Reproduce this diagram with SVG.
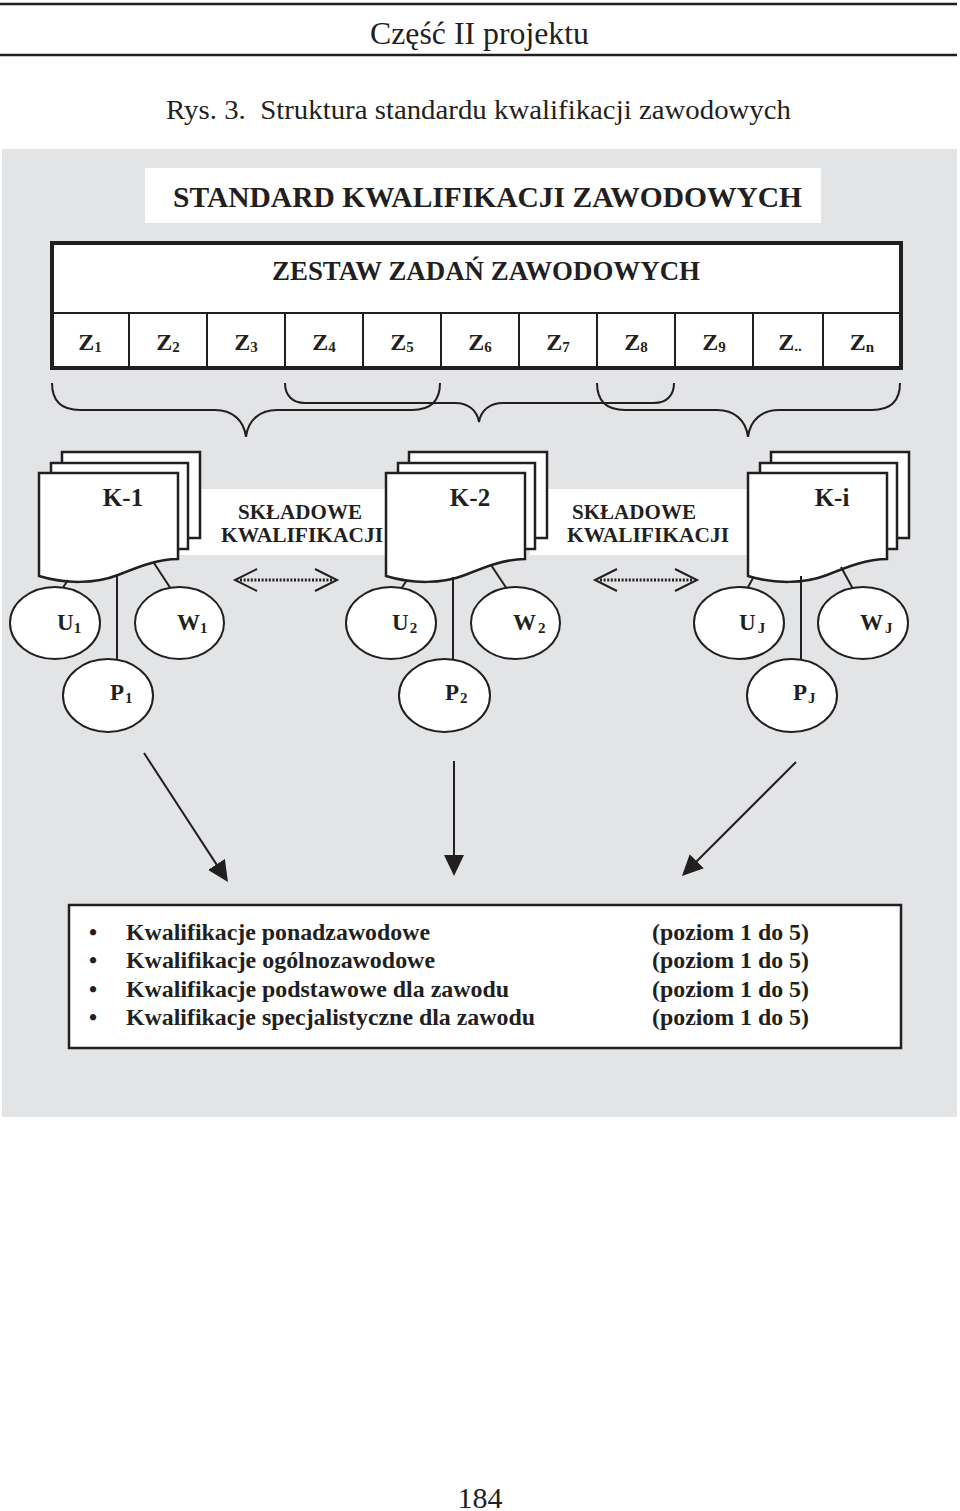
<svg xmlns="http://www.w3.org/2000/svg" width="960" height="1511" viewBox="0 0 960 1511">
<defs>
<style>
.t{font-family:"Liberation Serif","Times New Roman",serif;fill:#231f20}
.b{font-weight:bold}
.ln{stroke:#231f20;stroke-width:2;fill:none}
.sh{fill:#fff;stroke:#231f20;stroke-width:2.5}
.el{fill:#fff;stroke:#231f20;stroke-width:2}
.lbl{font-family:"Liberation Serif","Times New Roman",serif;font-weight:bold;font-size:23px;fill:#231f20}
.zl{font-family:"Liberation Serif","Times New Roman",serif;font-weight:bold;font-size:24px;fill:#231f20;text-anchor:middle}
.sub{font-size:15px}
.kl{font-family:"Liberation Serif","Times New Roman",serif;font-weight:bold;font-size:25px;fill:#231f20;text-anchor:middle}
.sk{font-family:"Liberation Serif","Times New Roman",serif;font-weight:bold;font-size:21px;fill:#231f20}
.li{font-family:"Liberation Serif","Times New Roman",serif;font-weight:bold;font-size:23px;fill:#231f20}
.dot{stroke:#231f20;stroke-width:3;stroke-dasharray:2 1.6;fill:none}
</style>
<marker id="ah" markerUnits="userSpaceOnUse" markerWidth="22" markerHeight="20" refX="11" refY="10" orient="auto"><path d="M0,0 L21,10 L0,20 Z" fill="#231f20"/></marker>
</defs>
<rect width="960" height="1511" fill="#fff"/>

<g id="header">
<line x1="0" y1="4" x2="957" y2="4" stroke="#231f20" stroke-width="2.5"/>
<text class="t" x="370" y="44" font-size="31" textLength="219" lengthAdjust="spacingAndGlyphs">Część II projektu</text>
<line x1="0" y1="55" x2="957" y2="55" stroke="#231f20" stroke-width="2.5"/>
<text class="t" x="166" y="119" font-size="28" textLength="625" lengthAdjust="spacingAndGlyphs">Rys. 3.&#160; Struktura standardu kwalifikacji zawodowych</text>
</g>

<rect id="panel" x="2" y="149" width="955" height="968" fill="#e3e4e6"/>

<g id="title">
<rect x="145" y="168" width="676" height="55" fill="#fff"/>
<text class="t b" x="173" y="207" font-size="30" textLength="629" lengthAdjust="spacingAndGlyphs">STANDARD KWALIFIKACJI ZAWODOWYCH</text>
</g>

<g id="zestaw">
<rect x="52" y="243" width="849" height="125" fill="#fff" stroke="#231f20" stroke-width="4"/>
<line class="ln" x1="52" y1="313" x2="901" y2="313"/>
<text class="t b" x="272" y="280" font-size="27" textLength="428" lengthAdjust="spacingAndGlyphs">ZESTAW ZADAŃ ZAWODOWYCH</text>
<g class="ln">
<line x1="129" y1="313" x2="129" y2="368"/>
<line x1="207" y1="313" x2="207" y2="368"/>
<line x1="285" y1="313" x2="285" y2="368"/>
<line x1="363" y1="313" x2="363" y2="368"/>
<line x1="441" y1="313" x2="441" y2="368"/>
<line x1="519" y1="313" x2="519" y2="368"/>
<line x1="597" y1="313" x2="597" y2="368"/>
<line x1="675" y1="313" x2="675" y2="368"/>
<line x1="753" y1="313" x2="753" y2="368"/>
<line x1="823" y1="313" x2="823" y2="368"/>
</g>
<text class="zl" x="90" y="350">Z<tspan class="sub" dy="2">1</tspan></text>
<text class="zl" x="168" y="350">Z<tspan class="sub" dy="2">2</tspan></text>
<text class="zl" x="246" y="350">Z<tspan class="sub" dy="2">3</tspan></text>
<text class="zl" x="324" y="350">Z<tspan class="sub" dy="2">4</tspan></text>
<text class="zl" x="402" y="350">Z<tspan class="sub" dy="2">5</tspan></text>
<text class="zl" x="480" y="350">Z<tspan class="sub" dy="2">6</tspan></text>
<text class="zl" x="558" y="350">Z<tspan class="sub" dy="2">7</tspan></text>
<text class="zl" x="636" y="350">Z<tspan class="sub" dy="2">8</tspan></text>
<text class="zl" x="714" y="350">Z<tspan class="sub" dy="2">9</tspan></text>
<text class="zl" x="790" y="350">Z<tspan class="sub" dy="1">..</tspan></text>
<text class="zl" x="862" y="350">Z<tspan class="sub" dy="2">n</tspan></text>
</g>

<g id="braces" class="ln">
<path d="M52,383 C52,400 60,410 80,410 L215,410 C232,410 244,420 246,437 C248,420 260,410 277,410 L412,410 C432,410 440,400 440,383"/>
<path d="M285,383 C285,395 292,403 305,403 L455,403 C468,403 477,410 479,422 C481,410 490,403 503,403 L654,403 C667,403 674,395 674,383"/>
<path d="M597,383 C597,400 605,410 625,410 L717,410 C734,410 746,420 748,437 C750,420 762,410 779,410 L872,410 C892,410 900,400 900,383"/>
</g>

<g id="bands">
<rect x="180" y="489" width="210" height="66" fill="#fff"/>
<rect x="530" y="489" width="222" height="66" fill="#fff"/>
<text class="sk" x="238" y="519" textLength="124" lengthAdjust="spacingAndGlyphs">SKŁADOWE</text>
<text class="sk" x="221" y="542" textLength="162" lengthAdjust="spacingAndGlyphs">KWALIFIKACJI</text>
<text class="sk" x="572" y="519" textLength="124" lengthAdjust="spacingAndGlyphs">SKŁADOWE</text>
<text class="sk" x="567" y="542" textLength="162" lengthAdjust="spacingAndGlyphs">KWALIFIKACJI</text>
</g>

<g id="K1">
<rect class="sh" x="62" y="452" width="138" height="86"/>
<rect class="sh" x="51" y="463" width="137" height="86"/>
<path class="sh" d="M39,473 H178 V559 C158,559 138,567 118,575 C95,584 65,584 39,576 Z"/>
<text class="kl" x="123" y="506">K-1</text>
</g>
<g id="K2" transform="translate(347,0)">
<rect class="sh" x="62" y="452" width="138" height="86"/>
<rect class="sh" x="51" y="463" width="137" height="86"/>
<path class="sh" d="M39,473 H178 V559 C158,559 138,567 118,575 C95,584 65,584 39,576 Z"/>
<text class="kl" x="123" y="506">K-2</text>
</g>
<g id="Ki" transform="translate(709,0)">
<rect class="sh" x="62" y="452" width="138" height="86"/>
<rect class="sh" x="51" y="463" width="137" height="86"/>
<path class="sh" d="M39,473 H178 V559 C158,559 138,567 118,575 C95,584 65,584 39,576 Z"/>
<text class="kl" x="123" y="506">K-i</text>
</g>

<g id="connectors">
<g class="ln">
<line x1="68" y1="580" x2="62" y2="589"/>
<line x1="117" y1="576" x2="117" y2="660"/>
<line x1="154" y1="563" x2="171" y2="589"/>
<line x1="407" y1="580" x2="401" y2="589"/>
<line x1="453" y1="577" x2="453" y2="660"/>
<line x1="491" y1="565" x2="507" y2="589"/>
<line x1="753" y1="578" x2="747" y2="589"/>
<line x1="801" y1="576" x2="801" y2="660"/>
<line x1="841" y1="567" x2="853" y2="589"/>
<polyline points="257,569 235,580 257,591"/>
<polyline points="315,569 337,580 315,591"/>
<polyline points="617,569 595,580 617,591"/>
<polyline points="675,569 697,580 675,591"/>
</g>
<line class="dot" x1="240" y1="580" x2="333" y2="580"/>
<line class="dot" x1="600" y1="580" x2="693" y2="580"/>
<g class="ln" marker-end="url(#ah)">
<line x1="144" y1="753" x2="222.5" y2="873.6"/>
<line x1="454" y1="761" x2="454" y2="866"/>
<line x1="796" y1="762" x2="689" y2="869"/>
</g>
</g>

<g id="U1"><ellipse class="el" cx="55" cy="623" rx="45" ry="36"/><text class="lbl" x="57" y="630">U<tspan class="sub" dy="3">1</tspan></text></g>
<g id="W1"><ellipse class="el" cx="179.5" cy="623" rx="44.5" ry="36"/><text class="lbl" x="177" y="630">W<tspan class="sub" dy="3">1</tspan></text></g>
<g id="P1"><ellipse class="el" cx="108" cy="695.5" rx="45" ry="36.5"/><text class="lbl" x="110" y="700">P<tspan class="sub" dy="3" dx="1">1</tspan></text></g>
<g id="U2"><ellipse class="el" cx="391" cy="623" rx="45" ry="36"/><text class="lbl" x="392" y="630">U<tspan class="sub" dy="3" dx="1">2</tspan></text></g>
<g id="W2"><ellipse class="el" cx="515.5" cy="623" rx="44.5" ry="36"/><text class="lbl" x="513" y="630">W<tspan class="sub" dy="3" dx="2">2</tspan></text></g>
<g id="P2"><ellipse class="el" cx="444.5" cy="695.5" rx="45.5" ry="36.5"/><text class="lbl" x="445" y="700">P<tspan class="sub" dy="3" dx="1">2</tspan></text></g>
<g id="UJ"><ellipse class="el" cx="739" cy="623" rx="45" ry="36"/><text class="lbl" x="739" y="630">U<tspan class="sub" dy="3" dx="2">J</tspan></text></g>
<g id="WJ"><ellipse class="el" cx="863" cy="623" rx="45" ry="36"/><text class="lbl" x="860" y="630">W<tspan class="sub" dy="3" dx="2">J</tspan></text></g>
<g id="PJ"><ellipse class="el" cx="792" cy="695.5" rx="45" ry="36.5"/><text class="lbl" x="793" y="700">P<tspan class="sub" dy="3" dx="1">J</tspan></text></g>

<g id="list">
<rect x="69" y="905" width="832" height="143" fill="#fff" stroke="#231f20" stroke-width="2.5"/>
<text class="li" x="89" y="940">•</text>
<text class="li" x="89" y="968">•</text>
<text class="li" x="89" y="997">•</text>
<text class="li" x="89" y="1025">•</text>
<text class="li" x="126" y="940" textLength="304" lengthAdjust="spacingAndGlyphs">Kwalifikacje ponadzawodowe</text>
<text class="li" x="126" y="968" textLength="309" lengthAdjust="spacingAndGlyphs">Kwalifikacje ogólnozawodowe</text>
<text class="li" x="126" y="997" textLength="383" lengthAdjust="spacingAndGlyphs">Kwalifikacje podstawowe dla zawodu</text>
<text class="li" x="126" y="1025" textLength="409" lengthAdjust="spacingAndGlyphs">Kwalifikacje specjalistyczne dla zawodu</text>
<text class="li" x="652" y="940" textLength="157" lengthAdjust="spacingAndGlyphs">(poziom 1 do 5)</text>
<text class="li" x="652" y="968" textLength="157" lengthAdjust="spacingAndGlyphs">(poziom 1 do 5)</text>
<text class="li" x="652" y="997" textLength="157" lengthAdjust="spacingAndGlyphs">(poziom 1 do 5)</text>
<text class="li" x="652" y="1025" textLength="157" lengthAdjust="spacingAndGlyphs">(poziom 1 do 5)</text>
</g>

<text id="page" class="t" x="480" y="1508" font-size="30" text-anchor="middle">184</text>
</svg>
